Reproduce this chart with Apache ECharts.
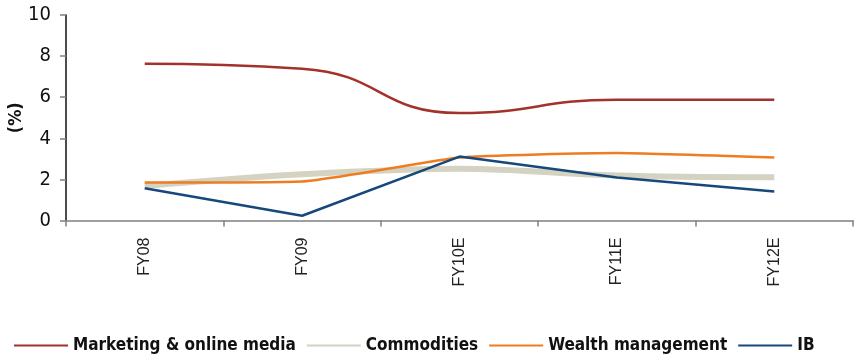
<!DOCTYPE html>
<html>
<head>
<meta charset="utf-8">
<script src="https://cdn.jsdelivr.net/npm/echarts@6/dist/echarts.min.js"></script>
<style>
  html, body { margin: 0; padding: 0; background: #fff; }
  #chart { width: 862px; height: 358px; }
</style>
</head>
<body>
<div id="chart"></div>
<script>
// Fiscal years (E = estimate)
const categories = ['FY08', 'FY09', 'FY10E', 'FY11E', 'FY12E'];

// Segment shares, in percent
const marketing = [7.63, 7.39, 5.23, 5.88, 5.88];
const commodities = [1.68, 2.25, 2.52, 2.19, 2.10];
const wealth = [1.85, 1.90, 3.06, 3.28, 3.06];
const ib = [1.57, 0.23, 3.11, 2.09, 1.41];

const yTicks = { min: 0, max: 10, interval: 2 };

const condensed = "'DejaVu Sans Condensed', 'Liberation Sans Narrow', 'Liberation Sans', Arial, sans-serif";

const chart = echarts.init(document.getElementById('chart'));

const lineSeries = (name, data, color, width, smooth) => ({
  name: name,
  type: 'line',
  data: data,
  symbol: 'none',
  smooth: smooth,
  lineStyle: { color: color, width: width },
  itemStyle: { color: color },
  emphasis: { disabled: true }
});

chart.setOption({
  animation: false,
  grid: { left: 66, right: 9, top: 15, bottom: 137.5, outerBoundsMode: 'none', containLabel: false },
  xAxis: {
    type: 'category',
    data: categories,
    boundaryGap: true,
    axisLine: { lineStyle: { color: '#808080', width: 1.5 } },
    axisTick: { show: true, alignWithLabel: false, length: 6, lineStyle: { color: '#808080', width: 1.5 } },
    axisLabel: {
      rotate: 90,
      margin: 17,
      fontFamily: 'Liberation Sans, Arial, sans-serif',
      fontSize: 16,
      color: '#222'
    },
    splitLine: { show: false }
  },
  yAxis: {
    type: 'value',
    min: yTicks.min,
    max: yTicks.max,
    interval: yTicks.interval,
    name: '(%)',
    nameLocation: 'middle',
    nameGap: 41,
    nameRotate: 90,
    nameMoveOverlap: false,
    nameTextStyle: {
      fontFamily: condensed,
      fontWeight: 'bold',
      fontSize: 18,
      color: '#111'
    },
    axisLine: { show: true, lineStyle: { color: '#111', width: 1.5 } },
    axisTick: { show: true, length: 6, lineStyle: { color: '#808080', width: 1.5 } },
    axisLabel: {
      margin: 15,
      fontFamily: condensed,
      fontSize: 20,
      color: '#111'
    },
    splitLine: { show: false }
  },
  legend: {
    left: 8,
    top: 332,
    itemWidth: 54,
    itemHeight: 14,
    itemGap: 10,
    // line-only legend keys: hide the marker drawn in the middle of each key
    itemStyle: { opacity: 0 },
    textStyle: {
      fontFamily: condensed,
      fontWeight: 'bold',
      fontSize: 17,
      color: '#111'
    },
    data: ['Marketing & online media', 'Commodities', 'Wealth management', 'IB']
  },
  series: [
    lineSeries('Marketing & online media', marketing, '#a2322b', 2.5, 0.5),
    lineSeries('Commodities', commodities, '#d4d2c1', 6, 0.35),
    lineSeries('Wealth management', wealth, '#ee7d22', 2.5, 0.15),
    lineSeries('IB', ib, '#17487c', 2.5, false)
  ]
});
</script>
</body>
</html>
